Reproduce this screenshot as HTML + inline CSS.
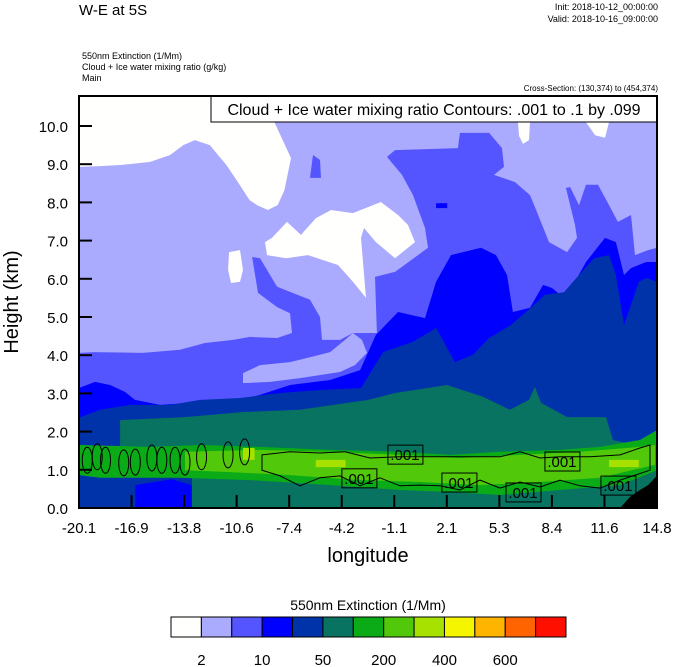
<!DOCTYPE html>
<html><head><meta charset="utf-8"><style>
body{margin:0;background:#fff;width:674px;height:667px;overflow:hidden;font-family:"Liberation Sans",sans-serif}
svg{display:block}
</style></head><body>
<svg id="chart" width="674" height="667" viewBox="0 0 674 667" xmlns="http://www.w3.org/2000/svg">
<text x="79" y="15" font-size="15">W-E at 5S</text>
<text x="658" y="10" font-size="9" text-anchor="end">Init: 2018-10-12_00:00:00</text>
<text x="658" y="22" font-size="9" text-anchor="end">Valid: 2018-10-16_09:00:00</text>
<text x="82" y="59" font-size="9">550nm Extinction   (1/Mm)</text>
<text x="82" y="70" font-size="9">Cloud + Ice water mixing ratio   (g/kg)</text>
<text x="82" y="81" font-size="9">Main</text>
<text x="658" y="91" font-size="8" text-anchor="end">Cross-Section: (130,374) to (454,374)</text>
<defs><clipPath id="pc"><rect x="79" y="96" width="578" height="412"/></clipPath></defs>
<g id="plot" clip-path="url(#pc)"></g>
<g id="axes"></g>
<g id="cbar"></g>
</svg>
<script>
// axis ranges
const lonMin=-20.1, lonMax=14.8, hMin=0, hMax=10.785;
const xTickLabels=["-20.1","-16.9","-13.8","-10.6","-7.4","-4.2","-1.1","2.1","5.3","8.4","11.6","14.8"];
const yTickValues=[0,1,2,3,4,5,6,7,8,9,10];
const levelColors=["#fffffe","#aaaaff","#5555ff","#0000ff","#0033aa","#077360","#0aab17","#52c80a","#a6e100","#f5f500","#ffb400","#ff6400","#ff0f00"];
const levelLabels=["2","10","50","200","400","600"];
// filled regions (longitude, height km)
const midBlueMain=[[-20.1,4.06],[-19.19,4.08],[-16.24,4.06],[-14.0,4.14],[-12.49,4.32],[-10.8,4.4],[-9.78,4.48],[-8.14,4.45],[-7.24,4.58],[-7.36,5.1],[-8.14,5.26],[-9.29,5.63],[-9.65,6.57],[-9.17,6.54],[-8.14,5.79],[-6.15,5.45],[-5.55,5.0],[-5.43,4.4],[-4.34,4.4],[-3.56,4.58],[-2.11,4.58],[-2.23,6.05],[-1.02,6.18],[0.97,6.81],[0.79,7.33],[0.07,8.19],[-0.6,8.72],[-1.5,9.19],[-1.02,9.37],[2.78,9.42],[2.9,9.82],[4.66,9.82],[5.44,9.42],[5.56,8.93],[4.96,8.72],[6.23,8.53],[7.13,8.19],[7.55,7.75],[8.28,6.96],[9.37,6.7],[9.97,7.07],[9.85,7.41],[9.3,8.38],[9.55,8.4],[10.09,7.93],[10.51,8.46],[11.24,8.46],[11.9,7.93],[12.44,7.49],[13.23,7.67],[13.47,6.62],[14.26,6.75],[14.8,6.81],[14.8,0],[-20.1,0]];
const lavenderStrip=[[-10.2,3.27],[-10.2,3.53],[-9.17,3.74],[-7.36,3.82],[-5.85,3.98],[-4.94,4.08],[-4.04,4.4],[-3.56,4.58],[-3.01,4.4],[-2.71,4.06],[-3.44,3.74],[-4.34,3.56],[-6.76,3.4],[-8.57,3.3]];
const midBlueSpot=[[-5.97,9.24],[-5.55,9.11],[-5.49,8.64],[-6.15,8.64]];
const whiteTopLeft=[[-20.1,10.8],[-8.3,10.8],[-8.3,10.1],[-7.3,9.16],[-7.7,8.32],[-8.1,7.93],[-8.7,7.8],[-9.35,7.93],[-9.8,8.06],[-10.4,8.46],[-11.2,8.98],[-12.2,9.5],[-13.1,9.63],[-13.8,9.5],[-14.6,9.24],[-15.8,9.06],[-17.6,8.98],[-18.8,8.95],[-20.1,8.93]];
const whiteMid=[[-8.87,6.96],[-8.45,7.07],[-7.54,7.49],[-6.7,7.15],[-5.79,7.59],[-4.88,7.8],[-3.56,7.72],[-1.87,8.01],[-0.84,7.67],[-0.24,7.41],[0.19,6.96],[-1.02,6.54],[-2.17,6.96],[-2.89,7.33],[-3.07,7.07],[-2.77,5.5],[-3.56,5.92],[-4.46,6.36],[-6.27,6.62],[-7.6,6.54],[-8.75,6.62]];
const whiteDrip=[[-11.04,6.7],[-10.38,6.75],[-10.2,6.23],[-10.38,5.92],[-10.92,5.89],[-11.1,6.23]];
const whiteTopRight1=[[6.41,10.1],[7.13,10.1],[7.07,9.63],[6.71,9.53],[6.47,9.74]];
const whiteTopRight2=[[10.51,10.1],[11.9,10.1],[11.66,9.69],[11.06,9.76]];
const blueRegion=[[-20.1,3.14],[-19.13,3.3],[-18.23,3.22],[-17.32,3.04],[-16.72,2.83],[-15.21,2.7],[-12.79,2.77],[-10.38,2.83],[-9.17,2.96],[-7.36,3.22],[-4.94,3.35],[-3.13,3.61],[-2.17,4.53],[-0.84,5.13],[0.79,4.97],[1.46,5.92],[2.36,6.62],[4.17,6.81],[5.08,6.62],[5.74,6.1],[6.1,5.13],[7.13,5.24],[7.92,5.84],[8.46,5.76],[9.18,5.5],[9.85,5.92],[10.51,6.44],[11.66,7.07],[12.32,6.96],[12.81,6.1],[13.23,6.28],[14.14,6.44],[14.8,6.44],[14.8,0],[-20.1,0]];
const blueSpot=[[1.46,7.98],[2.13,7.98],[2.13,7.85],[1.46,7.85]];
const darkBlueRegion=[[-20.1,2.36],[-18.83,2.57],[-17.02,2.7],[-14.61,2.7],[-12.79,2.83],[-10.38,2.88],[-7.96,3.01],[-5.55,3.09],[-3.07,3.14],[-1.74,4.08],[0.07,4.35],[1.46,4.71],[2.12,4.19],[2.6,3.82],[3.69,4.01],[4.66,4.45],[5.98,4.79],[6.89,5.13],[8.04,5.58],[9.18,5.65],[10.09,6.1],[11.0,6.54],[11.9,6.62],[12.32,6.1],[12.81,4.79],[13.71,5.92],[14.14,6.02],[14.8,5.92],[14.8,0],[-20.1,0]];
const tealRegion=[[-17.62,2.3],[-13.7,2.38],[-10.26,2.51],[-6.76,2.57],[-2.65,2.83],[-1.02,3.01],[2.12,3.22],[4.29,2.91],[5.92,2.57],[7.07,2.83],[7.43,3.17],[7.8,2.75],[9.37,2.38],[11.72,2.38],[12.14,1.78],[14.02,1.6],[14.8,2.04],[14.8,0],[-13.28,0],[-13.28,0.99],[-17.62,0.99]];
const bluePocket=[[-16.7,0],[-16.7,0.6],[-14.5,0.75],[-13.3,0.6],[-13.3,0]];
const greenBand=[[-20.1,1.65],[-15.81,1.6],[-12.79,1.65],[-9.17,1.6],[-4.94,1.52],[-0.72,1.47],[2.3,1.39],[5.32,1.47],[8.94,1.52],[11.36,1.6],[13.77,1.78],[14.8,2.04],[14.8,0.99],[12.57,0.6],[8.94,0.47],[5.32,0.34],[2.3,0.42],[-0.72,0.47],[-4.94,0.6],[-9.78,0.73],[-14.0,0.79],[-18.83,0.79],[-20.1,0.86]];
const limeBand=[[-13.7,1.47],[-9.17,1.52],[-4.94,1.47],[-0.72,1.39],[2.9,1.31],[6.53,1.39],[10.15,1.47],[13.77,1.6],[14.68,1.65],[14.68,1.13],[11.36,0.79],[7.74,0.68],[4.11,0.6],[0.49,0.68],[-3.13,0.73],[-7.36,0.86],[-10.98,0.94],[-13.7,0.99]];
const ygPatch1=[[-5.8,1.26],[-4.0,1.26],[-4.0,1.07],[-5.8,1.07]];
const ygPatch2=[[11.9,1.26],[13.7,1.26],[13.7,1.07],[11.9,1.07]];
const ygPatch3=[[-10.2,1.57],[-9.5,1.57],[-9.5,1.26],[-10.2,1.26]];
const terrain=[[12.57,0],[13.17,0.29],[13.77,0.47],[14.26,0.6],[14.68,0.79],[14.8,0.86],[14.8,0]];
// contour data
const cellLon=[-19.6,-19.0,-18.5,-17.4,-16.7,-15.7,-15.1,-14.3,-13.7,-12.7,-11.1,-10.1];
const cellH=[1.25,1.34,1.25,1.18,1.2,1.31,1.25,1.25,1.2,1.34,1.39,1.47];
const contourTopLon=[-9.05,-7.36,-5.55,-4.04,-2.53,-0.72,1.09,3.51,5.32,6.53,7.74,8.94,10.75,12.57,13.77,14.38];
const contourTopH=[1.39,1.47,1.44,1.47,1.31,1.34,1.34,1.34,1.34,1.47,1.31,1.34,1.34,1.39,1.57,1.65];
const contourBotLon=[14.38,12.57,11.36,10.15,8.94,7.74,6.53,5.32,4.11,2.9,1.7,0.49,-0.72,-1.93,-3.13,-4.34,-5.55,-6.76,-7.96,-9.05];
const contourBotH=[0.99,0.73,0.52,0.58,0.73,0.55,0.68,0.52,0.73,0.47,0.58,0.6,0.58,0.79,0.58,0.84,0.79,0.58,0.84,0.99];
const labelLon=[-0.42,-3.2,2.84,6.71,9.06,12.44];
const labelH=[1.41,0.79,0.68,0.42,1.23,0.6];
const labelText=[".001",".001",".001",".001",".001",".001"];

const X0=79,X1=657,Y0=508,Y1=96;
function xs(l){return X0+(l-lonMin)/(lonMax-lonMin)*(X1-X0);}
function ys(h){return Y0-(h-hMin)/(hMax-hMin)*(Y0-Y1);}
const NS="http://www.w3.org/2000/svg";
const plot=document.getElementById('plot'),axes=document.getElementById('axes'),cbar=document.getElementById('cbar');
function mk(tag,attrs,parent){const e=document.createElementNS(NS,tag);for(const k in attrs)e.setAttribute(k,attrs[k]);parent.appendChild(e);return e;}
function poly(pts,fill,name){const e=mk('polygon',{points:pts.map(p=>xs(p[0]).toFixed(1)+','+ys(p[1]).toFixed(1)).join(' '),fill:fill},plot);

return e;}

let bg=mk('rect',{x:X0,y:Y1,width:X1-X0,height:Y0-Y1,fill:levelColors[1]},plot);


poly(whiteTopLeft,levelColors[0],'extinction-below-2-top-left');
poly(whiteMid,levelColors[0],'extinction-below-2-middle');
poly(whiteDrip,levelColors[0],'extinction-below-2-drip');
poly(whiteTopRight1,levelColors[0],'extinction-below-2-top-right');
poly(whiteTopRight2,levelColors[0],'extinction-below-2-top-right-2');
poly(midBlueMain,levelColors[2],'extinction-level-10-50');
poly(lavenderStrip,levelColors[1],'extinction-level-2-10-strip');
poly(midBlueSpot,levelColors[2],'extinction-level-10-50-spot');
poly(blueRegion,levelColors[3],'extinction-level-50-200');
poly(blueSpot,levelColors[3],'extinction-level-50-200-spot');
poly(darkBlueRegion,levelColors[4],'extinction-level-200-300');
poly(tealRegion,levelColors[5],'extinction-level-300-400');
poly(bluePocket,levelColors[3],'extinction-pocket');
poly(greenBand,levelColors[6],'extinction-green-band');
poly(limeBand,levelColors[7],'extinction-lime-band');
poly(ygPatch1,levelColors[8],'extinction-high-patch-1');
poly(ygPatch2,levelColors[8],'extinction-high-patch-2');
poly(ygPatch3,levelColors[8],'extinction-high-patch-3');
poly(terrain,'#000','terrain');

// contours
for(let i=0;i<cellLon.length;i++){
 const e=mk('ellipse',{cx:xs(cellLon[i]),cy:ys(cellH[i]),rx:5,ry:13,fill:'none',stroke:'#000','stroke-width':1},plot);
 
 
}
let d='M'+contourTopLon.map((l,i)=>xs(l).toFixed(1)+','+ys(contourTopH[i]).toFixed(1)).join(' L');
d+=' L'+contourBotLon.map((l,i)=>xs(l).toFixed(1)+','+ys(contourBotH[i]).toFixed(1)).join(' L')+' Z';
const cp=mk('path',{d:d,fill:'none',stroke:'#000','stroke-width':1},plot);


for(let i=0;i<labelLon.length;i++){
 const cx=xs(labelLon[i]),cy=ys(labelH[i]);
 const r=mk('rect',{x:cx-17,y:cy-9,width:35,height:19,fill:'none',stroke:'#000','stroke-width':1},plot);
 
 
 const t=mk('text',{x:cx,y:cy+6,'font-size':15,'text-anchor':'middle',fill:'#000'},plot);
 t.textContent=labelText[i];
 
 
}
// legend box
const lb=mk('rect',{x:211,y:96,width:446,height:26,fill:'#fff',stroke:'#000','stroke-width':1},axes);


const lt=mk('text',{x:434,y:115,'font-size':16,'text-anchor':'middle'},axes);
lt.textContent='Cloud + Ice water mixing ratio Contours: .001 to .1 by .099';


// frame
const fr=mk('rect',{x:X0,y:Y1,width:X1-X0,height:Y0-Y1,fill:'none',stroke:'#000','stroke-width':2},axes);


yTickValues.forEach(v=>{
 const y=ys(v);
 const tk=mk('line',{x1:X0,x2:X0+13,y1:y,y2:y,stroke:'#000','stroke-width':2},axes);
 
 
 const t=mk('text',{x:68,y:y+6,'font-size':15,'text-anchor':'end'},axes);
 t.textContent=v.toFixed(1);
 
 
});
xTickLabels.forEach((s,i)=>{
 const x=xs(lonMin+(lonMax-lonMin)*i/(xTickLabels.length-1));
 const tk=mk('line',{x1:x,x2:x,y1:Y0,y2:Y0-13,stroke:'#000','stroke-width':2},axes);
 
 
 const t=mk('text',{x:x,y:533,'font-size':15,'text-anchor':'middle'},axes);
 t.textContent=s;
 
 
});
const yt=mk('text',{x:0,y:0,'font-size':20,'text-anchor':'middle',transform:'translate(18,302) rotate(-90)'},axes);
yt.textContent='Height (km)';


const xt=mk('text',{x:368,y:562,'font-size':20,'text-anchor':'middle'},axes);
xt.textContent='longitude';


// colorbar
const cbx=171,cbw=395/levelColors.length;
const ct=mk('text',{x:368,y:610,'font-size':14,'text-anchor':'middle'},cbar);
ct.textContent='550nm Extinction  (1/Mm)';


levelColors.forEach((c,i)=>{
 const r=mk('rect',{x:cbx+i*cbw,y:617,width:cbw,height:20,fill:c,stroke:'#000','stroke-width':1},cbar);
 
 
});
levelLabels.forEach((s,i)=>{
 const t=mk('text',{x:cbx+(1+2*i)*cbw,y:665,'font-size':15,'text-anchor':'middle'},cbar);
 t.textContent=s;
 
 
});
</script>
</body></html>
